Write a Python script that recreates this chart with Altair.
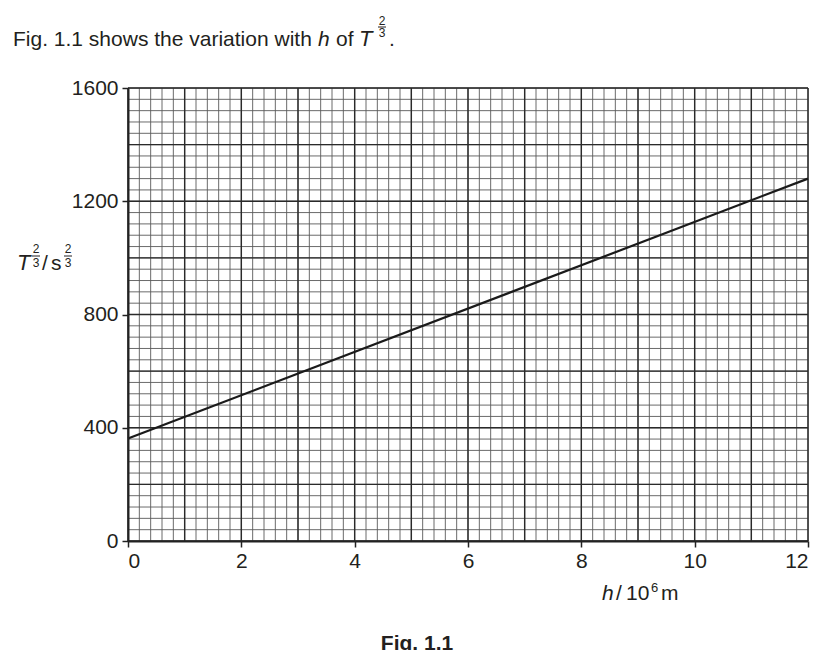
import altair as alt
import pandas as pd

# ---- data ----
h_vals = [0, 12]            # h / 10^6 m
t_vals = [362, 1280]        # T^(2/3) / s^(2/3)
x_ticks = [0, 2, 4, 6, 8, 10, 12]
y_ticks = [0, 400, 800, 1200, 1600]
x_minor = [round(i * 0.2, 1) for i in range(61)]
x_major = list(range(13))
y_minor = [i * 40 for i in range(41)]
y_major = [i * 200 for i in range(9)]

W, H = 680, 453
FONT = "Liberation Sans"
INK = "#231f20"

xs = alt.Scale(domain=[0, 12], nice=False, zero=False)
ys = alt.Scale(domain=[0, 1600], nice=False)

x_axis = alt.Axis(
    values=x_ticks, title=None, grid=False, labelFontSize=21, labelFont=FONT,
    labelColor=INK, tickSize=6, tickColor="#222", tickWidth=1.5,
    domainColor="#222", domainWidth=2, labelPadding=3, zindex=1, format="d")
y_axis = alt.Axis(
    values=y_ticks, title=None, grid=False, labelFontSize=21, labelFont=FONT,
    labelColor=INK, tickSize=6, tickColor="#222", tickWidth=1.5,
    domainColor="#222", domainWidth=2, labelPadding=4, zindex=1, format="d")


def vgrid(vals, color, width):
    return alt.Chart(pd.DataFrame({"v": vals})).mark_rule(
        color=color, strokeWidth=width
    ).encode(x=alt.X("v:Q", scale=xs, axis=x_axis), y=alt.value(0), y2=alt.value(H))


def hgrid(vals, color, width):
    return alt.Chart(pd.DataFrame({"v": vals})).mark_rule(
        color=color, strokeWidth=width
    ).encode(y=alt.Y("v:Q", scale=ys, axis=y_axis), x=alt.value(0), x2=alt.value(W))


def txt(s, x, y, size=21, style="normal", weight="normal", align="left"):
    return alt.Chart(pd.DataFrame({"t": [s]})).mark_text(
        align=align, baseline="alphabetic", font=FONT, fontSize=size,
        fontStyle=style, fontWeight=weight, color=INK
    ).encode(x=alt.value(x), y=alt.value(y), text="t:N")


def bar(x1, x2, y):
    return alt.Chart(pd.DataFrame({"a": [0]})).mark_rule(
        color=INK, strokeWidth=1
    ).encode(x=alt.value(x1), x2=alt.value(x2), y=alt.value(y))


line = alt.Chart(pd.DataFrame({"h": h_vals, "t": t_vals})).mark_line(
    color="#1a1a1a", strokeWidth=2.2
).encode(
    x=alt.X("h:Q", scale=xs, axis=x_axis),
    y=alt.Y("t:Q", scale=ys, axis=y_axis),
)

layers = [
    vgrid(x_minor, "#5a5a5a", 0.9),
    hgrid(y_minor, "#5a5a5a", 0.9),
    vgrid(x_major, "#2a2a2a", 1.4),
    hgrid(y_major, "#2a2a2a", 1.4),
    line,
    # title sentence
    txt("Fig. 1.1 shows the variation with", -115, -42),
    txt("h", 190, -42, style="italic"),
    txt("of", 208, -42),
    txt("T", 231, -42, style="italic", size=22),
    txt("2", 254, -63, size=12, align="center"),
    bar(250, 258, -61),
    txt("3", 254, -51, size=12, align="center"),
    txt(".", 261, -42),
    # y-axis label
    txt("T", -111, 182, style="italic", size=22),
    txt("2", -92, 165, size=12, align="center"),
    bar(-96, -88, 168),
    txt("3", -92, 179, size=12, align="center"),
    txt("/", -86, 182),
    txt("s", -77, 182),
    txt("2", -60, 165, size=12, align="center"),
    bar(-64, -56, 168),
    txt("3", -60, 179, size=12, align="center"),
    # x-axis label
    txt("h", 474, 512, style="italic"),
    txt("/", 488, 512),
    txt("10", 498, 512),
    txt("6", 523, 504, size=13),
    txt("m", 533, 512),
    # caption
    txt("Fig. 1.1", 289, 562, weight="bold", align="center"),
]

chart = alt.layer(*layers).properties(
    width=W, height=H,
    autosize=alt.AutoSizeParams(type="none"),
    padding={"left": 120, "top": 80, "right": 16, "bottom": 109},
).configure_view(stroke="#222", strokeWidth=1.5).configure(background="white")

chart.save("out.html", embed_options={"renderer": "svg", "actions": False})
